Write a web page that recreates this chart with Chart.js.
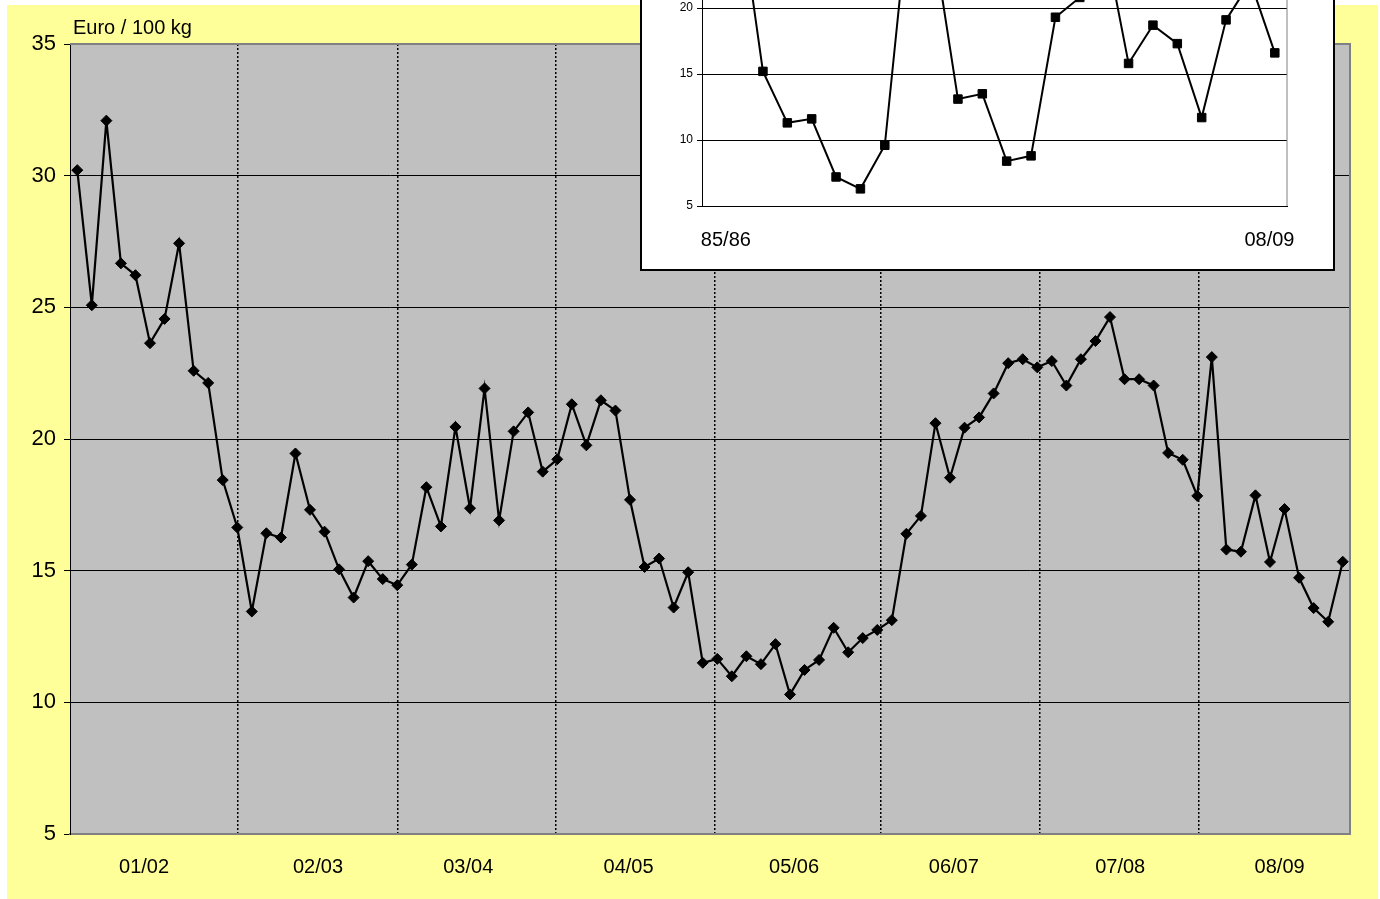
<!DOCTYPE html>
<html>
<head>
<meta charset="utf-8">
<script src="https://cdn.jsdelivr.net/npm/chart.js@4.4.1/dist/chart.umd.min.js"></script>
<style>
html, body { margin: 0; padding: 0; width: 1380px; height: 899px; overflow: hidden; background: #fff; }
#sheet { position: absolute; left: 7px; top: 5px; width: 1371px; height: 894px; background: #ffff99; }
#main { position: absolute; left: 0; top: 0; }
#unit { position: absolute; left: 73px; top: 17px; font: 20px Arial, "Liberation Sans", sans-serif; line-height: 20px; color: #000; }
#inset { position: absolute; left: 640px; top: -160px; width: 695px; height: 431px; box-sizing: border-box; border: 2px solid #000; background: #fff; }
#insetChart { position: absolute; left: 0; top: 0; }
</style>
</head>
<body>
<div id="sheet"><canvas id="main" width="1371" height="894"></canvas></div>
<div id="unit">Euro / 100 kg</div>
<div id="inset"><canvas id="insetChart" width="691" height="427"></canvas></div>
<script>
// monthly prices, 11 per marketing year, 01/02 .. 08/09
const prices = [
  30.21, 25.08, 32.09, 26.67, 26.22, 23.64, 24.56, 27.43, 22.59, 22.13, 18.44,
  16.64, 13.45, 16.42, 16.26, 19.45, 17.31, 16.48, 15.05, 13.98, 15.36, 14.68,
  14.45, 15.23, 18.17, 16.68, 20.46, 17.37, 21.92, 16.91, 20.29, 21.01, 18.76,
  19.23, 21.32, 19.76, 21.47, 21.08, 17.69, 15.14, 15.46, 13.6, 14.94, 11.5,
  11.65, 10.99, 11.75, 11.45, 12.21, 10.3, 11.23, 11.61, 12.83, 11.9, 12.44,
  12.75, 13.12, 16.4, 17.08, 20.6, 18.53, 20.43, 20.82, 21.73, 22.88, 23.03,
  22.72, 22.96, 22.03, 23.03, 23.72, 24.63, 22.27, 22.27, 22.03, 19.47, 19.21,
  17.84, 23.11, 15.8, 15.72, 17.86, 15.33, 17.34, 14.73, 13.58, 13.06, 15.34
];
const yearLabels = ['01/02', '02/03', '03/04', '04/05', '05/06', '06/07', '07/08', '08/09'];
const yearLabelPos = [4.59, 16.55, 26.88, 37.9, 49.28, 60.26, 71.7, 82.66];
const yearSeparators = [11.03, 22.0, 32.91, 43.82, 55.26, 66.19, 77.1];

// yearly averages 85/86 .. 08/09 (inset)
const seasons = ['85/86', '86/87', '87/88', '88/89', '89/90', '90/91', '91/92', '92/93',
  '93/94', '94/95', '95/96', '96/97', '97/98', '98/99', '99/00', '00/01', '01/02',
  '02/03', '03/04', '04/05', '05/06', '06/07', '07/08', '08/09'];
const seasonAvg = [26, 28.3, 15.2, 11.3, 11.6, 7.2, 6.3, 9.6, 27.7, 25.0, 13.1, 13.5,
  8.4, 8.8, 19.3, 20.8, 25.3, 15.8, 18.7, 17.3, 11.7, 19.1, 22.0, 16.6];
const insetLabels = ['85/86', '08/09'];
const insetLabelPos = [0.48, 22.78];

Chart.defaults.font.family = 'Arial, "Liberation Sans", sans-serif';
Chart.defaults.color = '#000';

const plotFrame = {
  id: 'plotFrame',
  beforeDraw(chart, args, opts) {
    if (!opts.fill) return;
    const a = chart.chartArea, ctx = chart.ctx;
    ctx.save();
    ctx.fillStyle = opts.fill;
    ctx.fillRect(a.left, a.top, a.right - a.left, a.bottom - a.top);
    ctx.restore();
  },
  beforeDatasetsDraw(chart, args, opts) {
    const a = chart.chartArea, ctx = chart.ctx;
    ctx.save();
    ctx.strokeStyle = opts.edge;
    ctx.lineWidth = opts.edgeWidth;
    ctx.beginPath();
    ctx.moveTo(a.left, a.top);
    ctx.lineTo(a.right, a.top);
    ctx.lineTo(a.right, a.bottom);
    ctx.stroke();
    ctx.restore();
  }
};

new Chart(document.getElementById('main'), {
  type: 'line',
  data: {
    datasets: [{
      data: prices.map((v, i) => ({ x: i, y: v })),
      xAxisID: 'x',
      yAxisID: 'y',
      borderColor: '#000',
      borderWidth: 2.2,
      pointStyle: 'rectRot',
      pointRadius: 5.5,
      pointBackgroundColor: '#000',
      pointBorderColor: '#000',
      pointBorderWidth: 1,
      tension: 0
    }]
  },
  options: {
    responsive: false,
    animation: false,
    devicePixelRatio: 1,
    layout: { padding: { left: 0, right: 28, top: 39, bottom: 0 } },
    plugins: {
      legend: { display: false },
      tooltip: { enabled: false },
      plotFrame: { fill: '#c0c0c0', edge: '#808080', edgeWidth: 2 }
    },
    scales: {
      x: {
        type: 'linear', min: -0.5, max: 87.5,
        afterBuildTicks: s => { s.ticks = yearLabelPos.map(v => ({ value: v })); },
        ticks: { autoSkip: false, maxRotation: 0, font: { size: 20 }, padding: 21,
          callback: (v, i) => yearLabels[i] },
        grid: { display: false, drawTicks: false },
        border: { color: '#808080', width: 2 },
        afterFit: s => { s.height = 65; }
      },
      x2: {
        type: 'linear', position: 'bottom', min: -0.5, max: 87.5,
        afterBuildTicks: s => { s.ticks = yearSeparators.map(v => ({ value: v })); },
        ticks: { display: false },
        grid: { color: '#000', lineWidth: 1.5, drawTicks: false },
        border: { display: false, dash: [2, 2] },
        afterFit: s => { s.height = 0; }
      },
      y: {
        min: 5, max: 35,
        ticks: { stepSize: 5, font: { size: 22 }, padding: 8 },
        grid: { color: '#000', lineWidth: 1, tickLength: 6 },
        border: { color: '#000', width: 1 },
        afterFit: s => { s.width = 63; }
      }
    }
  },
  plugins: [plotFrame]
});

new Chart(document.getElementById('insetChart'), {
  type: 'line',
  data: {
    datasets: [{
      data: seasonAvg.map((v, i) => ({ x: i, y: v })),
      borderColor: '#000',
      borderWidth: 2,
      pointStyle: 'rect',
      pointRadius: 6,
      pointBackgroundColor: '#000',
      pointBorderColor: '#000',
      pointBorderWidth: 1,
      tension: 0
    }]
  },
  options: {
    responsive: false,
    animation: false,
    devicePixelRatio: 1,
    layout: { padding: { left: 0, right: 46, top: 34, bottom: 0 } },
    plugins: {
      legend: { display: false },
      tooltip: { enabled: false },
      plotFrame: { fill: null, edge: '#808080', edgeWidth: 1 }
    },
    scales: {
      x: {
        type: 'linear', min: -0.5, max: 23.5,
        afterBuildTicks: s => { s.ticks = insetLabelPos.map(v => ({ value: v })); },
        ticks: { autoSkip: false, maxRotation: 0, font: { size: 20 }, padding: 22,
          callback: (v, i) => insetLabels[i] },
        grid: { display: false, drawTicks: false },
        border: { color: '#000', width: 1 },
        afterFit: s => { s.height = 63; }
      },
      y: {
        min: 5, max: 30,
        ticks: { stepSize: 5, font: { size: 12 }, padding: 4 },
        grid: { color: '#000', lineWidth: 1, tickLength: 5 },
        border: { color: '#000', width: 1 },
        afterFit: s => { s.width = 60; }
      }
    }
  },
  plugins: [plotFrame]
});
</script>
</body>
</html>
